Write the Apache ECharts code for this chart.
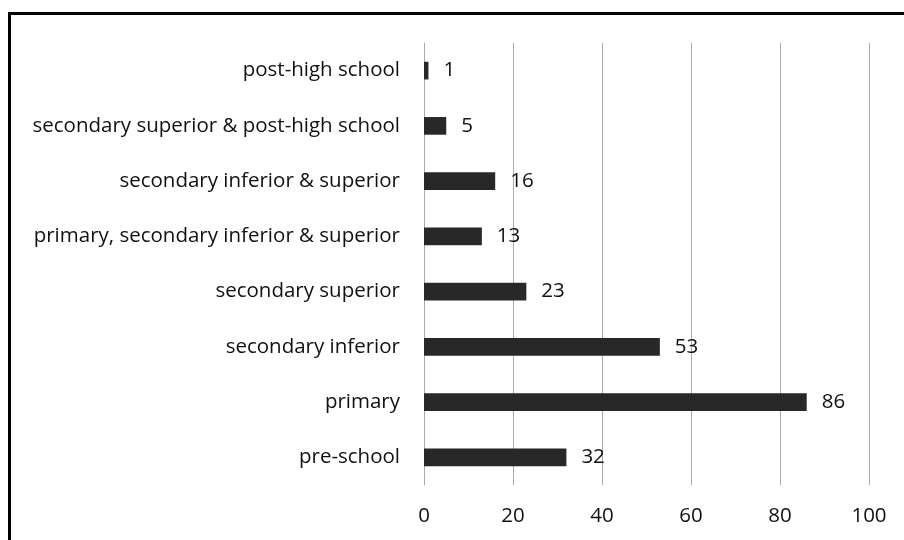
<!DOCTYPE html>
<html>
<head>
<meta charset="utf-8">
<script src="https://cdn.jsdelivr.net/npm/echarts@6/dist/echarts.min.js"></script>
<style>
  html, body { margin: 0; padding: 0; background: #fff; }
  #wrap { position: relative; width: 904px; height: 540px; overflow: hidden; }
  #frame { position: absolute; left: 8px; top: 12px; width: 900px; height: 540px;
           border-left: 3px solid #000; border-top: 3px solid #000; box-sizing: border-box; }
  #chart { position: absolute; left: 0; top: 0; width: 904px; height: 540px; }
</style>
</head>
<body>
<div id="wrap">
  <div id="frame"></div>
  <div id="chart"></div>
</div>
<script>
// Education level categories, listed bottom to top
const categories = [
  'pre-school',
  'primary',
  'secondary inferior',
  'secondary superior',
  'primary, secondary inferior & superior',
  'secondary inferior & superior',
  'secondary superior & post-high school',
  'post-high school'
];
const counts = [32, 86, 53, 23, 13, 16, 5, 1];
const xTicks = { min: 0, max: 100, interval: 20 };

const fontFamily = '"Open Sans", sans-serif';
const fontSize = 20.5;
const chart = echarts.init(document.getElementById('chart'), null, { renderer: 'canvas' });

chart.setOption({
  animation: false,
  backgroundColor: 'transparent',
  grid: { left: 424, right: 35, top: 43, bottom: 55, containLabel: false },
  xAxis: {
    type: 'value',
    min: xTicks.min,
    max: xTicks.max,
    interval: xTicks.interval,
    axisLine: { show: false },
    axisTick: { show: false },
    axisLabel: { color: '#111', fontSize: fontSize, fontFamily: fontFamily, margin: 21 },
    splitLine: { show: true, lineStyle: { color: '#aaaaaa', width: 1 } }
  },
  yAxis: {
    type: 'category',
    data: categories,
    axisLine: { show: true, lineStyle: { color: '#aaaaaa', width: 1 } },
    axisTick: { show: false },
    axisLabel: { color: '#111', fontSize: fontSize, fontFamily: fontFamily, margin: 24 }
  },
  series: [{
    type: 'bar',
    data: counts,
    barCategoryGap: '68%',
    itemStyle: { color: '#282828' },
    label: {
      show: true,
      position: 'right',
      distance: 15,
      color: '#111',
      fontSize: fontSize,
      fontFamily: fontFamily
    }
  }]
});
</script>
</body>
</html>
